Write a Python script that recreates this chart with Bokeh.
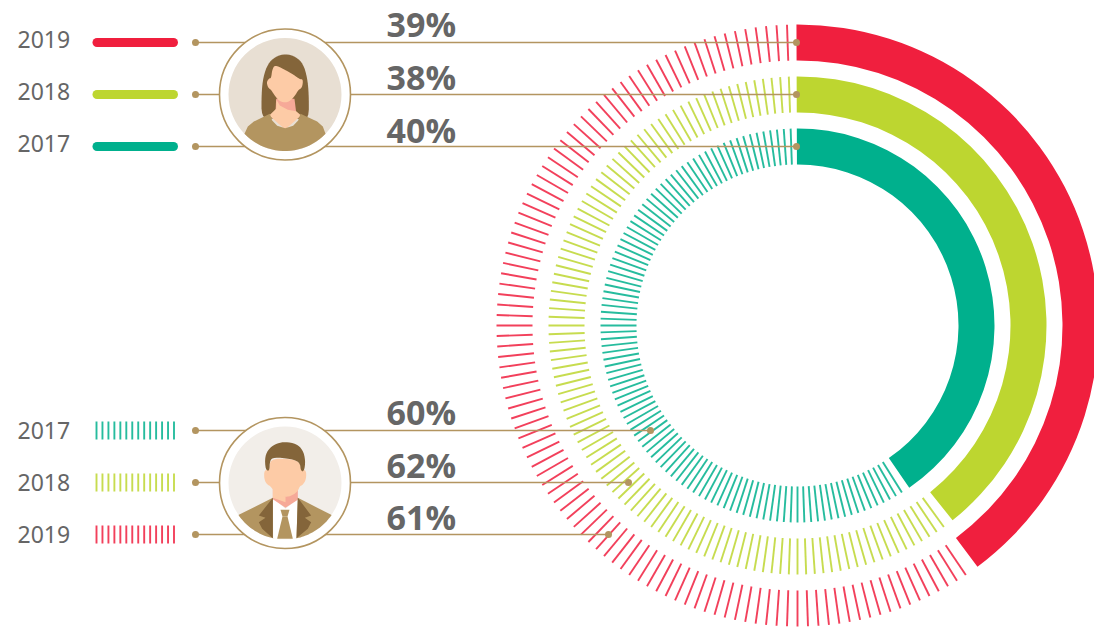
import numpy as np
from bokeh.plotting import figure
from bokeh.models import Range1d
from bokeh.core.properties import value
from bokeh.embed import file_html
from bokeh.resources import INLINE

# ---- data
years = ["2019", "2018", "2017"]
female_labels = ["39%", "38%", "40%"]
female_share = [39.8, 39.3, 40.4]   # drawn sweep of the solid rings, percent of a turn
colors = ["#F01F3E", "#BDD630", "#00B08D"]
male_years = ["2017", "2018", "2019"]
male_colors = ["#00B08D", "#BDD630", "#F01F3E"]
male_pct = ["60%", "62%", "61%"]

# ---- layout
W, H = 1094, 630
def Y(py): return H - np.asarray(py, dtype=float)
CX, CY = 797, 325
rings = [(265, 301), (213, 249), (161, 197)]
tick_step = 2.0
INK = "#666666"
GOLD = "#B39560"
SKIN = "#FDCBA6"; PINK = "#F6A998"; BROWN = "#84653A"
SMALL, BIG = 23, 34
SHIFT = 0.42   # baseline correction, in em

p = figure(width=W, height=H, x_range=Range1d(0, W), y_range=Range1d(0, H),
           output_backend="svg", toolbar_location=None, min_border=0,
           background_fill_color="white", border_fill_color="white", outline_line_color=None)
p.axis.visible = False
p.grid.visible = False

# ---- rings
for (ri, ro), share, col in zip(rings, female_share, colors):
    sweep = share * 3.6
    p.annular_wedge(x=[CX], y=[Y(CY)], inner_radius=ri, outer_radius=ro,
                    start_angle=90.2, end_angle=90 - sweep, start_angle_units="deg", end_angle_units="deg",
                    direction="clock", fill_color=col, line_color=None)
    ang = np.arange(358, sweep + 1, -tick_step)
    th = np.deg2rad(ang)
    p.segment(CX + ri * np.sin(th), Y(CY) + ri * np.cos(th),
              CX + ro * np.sin(th), Y(CY) + ro * np.cos(th), line_color=col, line_width=1.9, line_alpha=0.85)

# ---- legends
rows_top = [42, 94, 146]
rows_bot = [430, 482, 534]
def label(x, by, t, size, **kw):
    p.text([x], [Y(by - SHIFT * size + 1)], text=[t], text_font_size=f"{size}px", text_color=INK,
           text_baseline="alphabetic", **kw)
for y, yr, col in zip(rows_top, years, colors):
    p.segment([96.5], [Y(y)], [173], [Y(y)], line_color=col, line_width=9, line_cap="round")
    label(17, y + 6, yr, SMALL, text_font=value("Noto Sans"))
for y, yr, col in zip(rows_bot, male_years, male_colors):
    xs = np.linspace(96, 173.5, 14)
    p.segment(xs, np.full(14, Y(y - 9)), xs, np.full(14, Y(y + 9)), line_color=col, line_width=1.9, line_alpha=0.85)
    label(17, y + 9, yr, SMALL, text_font=value("Noto Sans"))

# ---- leaders
ends_top = [796, 796, 796]
ends_bot = [650, 628, 608]
for y, e in zip(rows_top + rows_bot, ends_top + ends_bot):
    p.segment([195], [Y(y)], [e], [Y(y)], line_color=GOLD, line_width=1.7)
    p.scatter([195, e], [Y(y), Y(y)], size=7, fill_color=GOLD, line_color=None)

# ---- percent labels
for by, t in zip([37, 90, 143, 425, 478, 530], female_labels + male_pct):
    label(386, by, t, BIG, text_font=value("Open Sans"), text_font_style="bold")

# ---- portraits
def portrait(cx, cy, bg):
    p.scatter([cx], [Y(cy)], size=131, fill_color="white", line_color=GOLD, line_width=1.6)
    p.scatter([cx], [Y(cy)], size=113, fill_color=bg, line_color=None)

def chaikin(a, n=2):
    for _ in range(n):
        b = np.roll(a, -1, axis=0)
        a = np.column_stack([0.75 * a + 0.25 * b, 0.25 * a + 0.75 * b]).reshape(-1, 2)
    return a

def shape(origin, pts, color, smooth=False):
    a = np.array(pts, dtype=float)
    if smooth:
        a = chaikin(a)
    p.patch(a[:, 0] / 3 + origin[0], Y(a[:, 1] / 3 + origin[1]), fill_color=color, line_color=None)

def arc(c, a0, a1, r=169.5, n=24):
    t = np.deg2rad(np.linspace(a0, a1, n))
    return list(zip(c[0] + r * np.cos(t), c[1] + r * np.sin(t)))

# woman
portrait(284.5, 94, "#E8DFD3")
o = (210, 20); c = (223.5, 222)
shape(o, [(153,290),(153,220),(158,170),(172,130),(195,108),(225,100),(255,108),(278,130),(290,170),(295,220),(295,295),(270,295),(180,295)], BROWN, True)
shape(o, [(197,235),(252,235),(257,275),(195,275)], PINK)
shape(o, [(198,238),(208,255),(232,268),(257,272),(272,285),(224,327),(176,285),(197,265)], SKIN)
shape(o, [(193,133),(220,146),(250,163),(267,176),(278,176),(275,202),(264,207),(252,228),(236,243),(222,246),(205,241),(190,221),(181,207),(173,202),(168,185),(176,173),(182,173),(185,148)], SKIN, True)
shape(o, [(102,340),(112,318),(130,303),(178,280),(185,300),(200,316),(224,323),(248,316),(263,300),(270,280),(320,303),(337,318),(345,340)] + arc(c, 44.5, 135.5), GOLD)

# man
portrait(284.5, 482.5, "#F2EEE9")
o = (210, 410); c = (223.5, 217.5)
shape(o, [(187,262),(225,295),(262,265),(262,385)] + arc(c, 78, 102), "#FFFFFF")
shape(o, [(187,238),(262,238),(262,268),(225,292),(187,266)], PINK)
shape(o, [(187,235),(205,253),(225,258),(225,275),(187,262)], SKIN)
shape(o, [(178,145),(240,145),(268,155),(272,180),(287,178),(287,207),(276,224),(268,227),(262,242),(245,255),(225,260),(205,255),(190,242),(180,227),(170,222),(161,207),(161,178),(178,180)], SKIN, True)
shape(o, [(165,178),(163,138),(176,113),(200,98),(225,94),(257,100),(277,118),(285,150),(281,182),(271,182),(268,155),(240,145),(190,140),(178,150),(177,182)], BROWN, True)
shape(o, [(85,313),(187,262),(187,383)] + arc(c, 101, 145), GOLD)
shape(o, [(362,313),(262,262),(258,383)] + arc(c, 78, 35), GOLD)
shape(o, [(187,262),(145,315),(165,322),(145,335),(155,355),(187,383)], BROWN)
shape(o, [(262,262),(302,315),(283,322),(302,335),(292,355),(258,383)], BROWN)
shape(o, [(210,298),(237,298),(231,318),(216,318)], GOLD)
shape(o, [(216,318),(231,318),(247,385),(200,385)], GOLD)

open("out.html", "w").write(file_html(p, INLINE))
